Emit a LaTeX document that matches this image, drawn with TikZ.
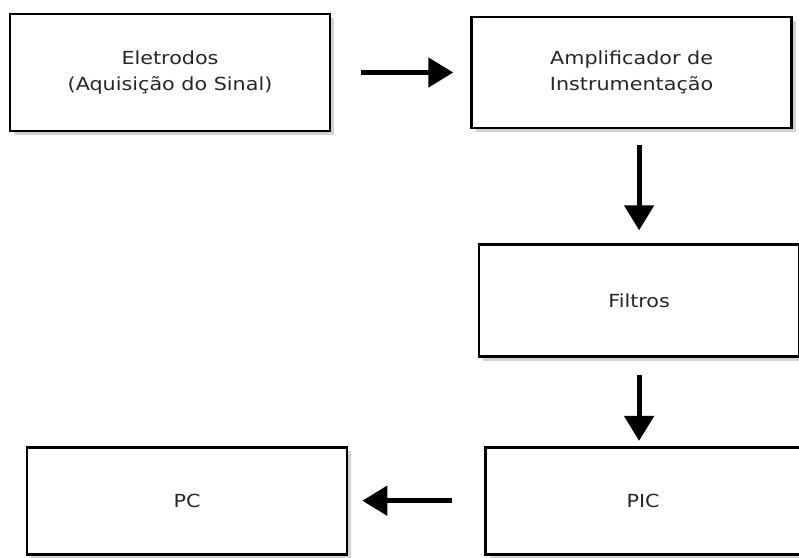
\documentclass[tikz,border=0pt]{standalone}
\usepackage{fontspec}
\setmainfont{DejaVu Sans}[FakeStretch=1.15]
\usetikzlibrary{arrows.meta, positioning, shadows}

\begin{document}
\begin{tikzpicture}[
    x=1pt, y=-1pt,
    blockbox/.style={rectangle, draw=black, line width=2.6pt, fill=white, align=center,
        minimum width=320pt, minimum height=112pt, text=black!85,
        font=\fontsize{18}{26}\selectfont,
        drop shadow={shadow xshift=4pt, shadow yshift=-4pt, opacity=0.35}},
    bigarrow/.style={line width=5pt, -{Triangle[length=25pt,width=29pt]}}
]
\useasboundingbox (0,0) rectangle (799,557);

% Nodes
\node[blockbox, minimum height=117pt] (Eletrodos) at (170,72.5) {Eletrodos\\(Aquisição do Sinal)};
\node[blockbox, minimum height=111pt, right=139pt of Eletrodos] (Amplificador) {Amplificador de\\Instrumentação};
\node[blockbox, below=114pt of Amplificador, xshift=7.5pt] (Filtros) {Filtros};
\node[blockbox, minimum width=315pt, minimum height=107pt, below=88pt of Filtros, xshift=4pt] (PIC) {PIC};
\node[blockbox, minimum height=107pt, left=136pt of PIC] (PC) {PC};

% Paths
\draw[bigarrow, shorten <=30pt, shorten >=17pt] (Eletrodos) -- (Amplificador);
\draw[bigarrow, shorten <=16pt, shorten >=13pt] (Amplificador.south -| Filtros.north) -- (Filtros.north);
\draw[bigarrow, shorten <=17pt, shorten >=5pt] (Filtros.south) -- (PIC.north -| Filtros.south);
\draw[bigarrow, shorten <=32pt, shorten >=14pt] (PIC) -- (PC);

\end{tikzpicture}
\end{document}
